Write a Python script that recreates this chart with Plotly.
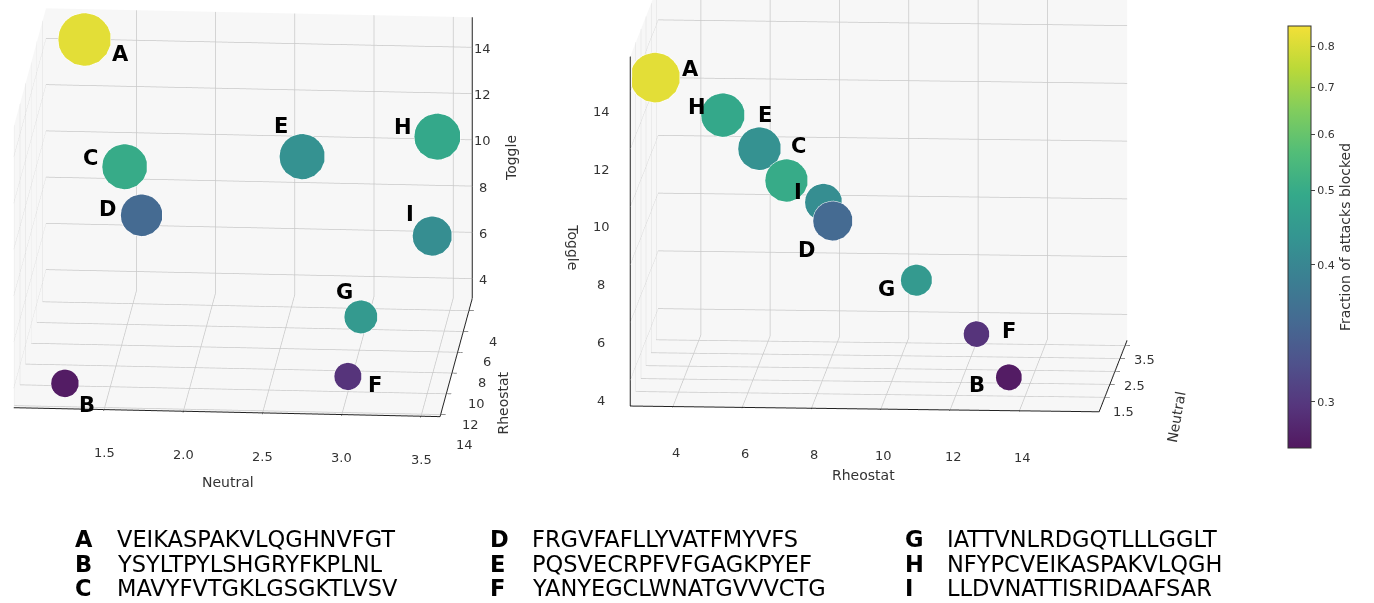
import numpy as np
import plotly.graph_objects as go

# ---------------- data ----------------
labels = ["A", "B", "C", "D", "E", "F", "G", "H", "I"]
neutral = [1.18, 1.24, 1.50, 1.63, 2.60, 3.00, 3.05, 3.43, 3.45]
rheostat = [3.4, 13.6, 7.1, 8.4, 6.0, 12.15, 10.4, 4.7, 7.6]
toggle = [14.3, 4.0, 10.5, 9.0, 10.6, 3.9, 5.7, 11.0, 8.0]
fraction_blocked = [0.82, 0.27, 0.50, 0.36, 0.43, 0.295, 0.45, 0.49, 0.42]
sequences = [
    "VEIKASPAKVLQGHNVFGT", "YSYLTPYLSHGRYFKPLNL", "MAVYFVTGKLGSGKTLVSV",
    "FRGVFAFLLYVATFMYVFS", "PQSVECRPFVFGAGKPYEF", "YANYEGCLWNATGVVVCTG",
    "IATTVNLRDGQTLLLGGLT", "NFYPCVEIKASPAKVLQGH", "LLDVNATTISRIDAAFSAR",
]
cbar_ticks = [0.3, 0.4, 0.5, 0.6, 0.7, 0.8]
toggle_ticks = [4, 6, 8, 10, 12, 14]
rheostat_ticks = [4, 6, 8, 10, 12, 14]
neutral_ticks_left = [1.5, 2.0, 2.5, 3.0, 3.5]
neutral_ticks_right = [1.5, 2.0, 2.5, 3.0, 3.5]
neutral_labels_right = [1.5, 2.5, 3.5]

# axis ranges
N_RANGE = [0.93, 3.62]
N_RANGE2 = [0.94, 3.7]
R_RANGE = [2.8, 14.2]
R_RANGE2 = [2.77, 16.3]
T_RANGE = [3.15, 15.3]
T_RANGE2 = [3.1, 15.2]

# colour-bar scale as it appears in the picture (value -> position on bar)
bar_vals = [0.266, 0.3, 0.4, 0.5, 0.6, 0.7, 0.8, 0.85]
bar_pos = [0.0, 0.109, 0.434, 0.611, 0.744, 0.855, 0.952, 1.0]
col = np.interp(fraction_blocked, bar_vals, bar_pos)
tickpos = np.interp(cbar_ticks, bar_vals, bar_pos)

# slightly muted viridis, as in the picture
viridis = ["#440154", "#482475", "#414487", "#355f8d", "#2a788e", "#21918c",
           "#22a884", "#44bf70", "#7ad151", "#bddf26", "#fde725"]
def mute(h, k=0.13, g=(176, 176, 176)):
    r, gg, b = int(h[1:3], 16), int(h[3:5], 16), int(h[5:7], 16)
    m = [round((1 - k) * c + k * gc) for c, gc in zip((r, gg, b), g)]
    return "rgb(%d,%d,%d)" % tuple(m)
cscale = [[i / 10, mute(c)] for i, c in enumerate(viridis)]

FONT = "DejaVu Sans"
TXT = "#333"

def axis(rng, tickvals, reverse=False, show_ticks=True):
    r = list(rng)[::-1] if reverse else list(rng)
    return dict(
        title=dict(text=""), range=r, tickvals=tickvals,
        showbackground=True, backgroundcolor="#f7f7f7",
        gridcolor="#c9c9c9", gridwidth=1.5, showline=show_ticks, linecolor="#222",
        linewidth=2, ticks="outside" if show_ticks else "", tickcolor="#222", ticklen=5,
        showticklabels=False, zeroline=False, showspikes=False,
    )

def camera(center, direction):
    c = dict(x=center[0], y=center[1], z=center[2])
    e = dict(x=center[0] + direction[0], y=center[1] + direction[1], z=center[2] + direction[2])
    return dict(eye=e, center=c, up=dict(x=0, y=0, z=1), projection=dict(type="orthographic"))

fig = go.Figure()

size_left = [16.3 * np.sqrt(t) for t in toggle]
size_right = [15.4 * np.sqrt(t) for t in toggle]

fig.add_trace(go.Scatter3d(
    x=neutral, y=rheostat, z=toggle, mode="markers", scene="scene",
    marker=dict(size=size_left, sizemode="diameter", color=col, cmin=0, cmax=1,
                colorscale=cscale, opacity=1, line=dict(color="white", width=1)),
    showlegend=False, hoverinfo="skip",
))

# left panel: Toggle axis drawn on the back-right edge (as in the picture)
ax_x, ax_y = N_RANGE[1], R_RANGE[0]
fig.add_trace(go.Scatter3d(
    x=[ax_x, ax_x], y=[ax_y, ax_y], z=T_RANGE, mode="lines", scene="scene",
    line=dict(color="#222", width=2), showlegend=False, hoverinfo="skip",
))
tx, ty, tz = [], [], []
for t in toggle_ticks:
    tx += [ax_x, ax_x + 0.05, None]
    ty += [ax_y, ax_y, None]
    tz += [t, t, None]
fig.add_trace(go.Scatter3d(
    x=tx, y=ty, z=tz, mode="lines", scene="scene",
    line=dict(color="#222", width=2), showlegend=False, hoverinfo="skip",
))

fig.add_trace(go.Scatter3d(
    x=rheostat, y=neutral, z=toggle, mode="markers", scene="scene2",
    marker=dict(size=size_right, sizemode="diameter", color=col, cmin=0, cmax=1,
                colorscale=cscale, opacity=1, line=dict(color="white", width=1),
                colorbar=dict(
                    x=0.930, xanchor="left", y=0.607, yanchor="middle",
                    len=0.733, lenmode="fraction", thickness=23,
                    tickvals=list(tickpos), ticktext=[str(t) for t in cbar_ticks],
                    ticks="outside", ticklen=4, outlinewidth=1, outlinecolor="#333",
                    tickfont=dict(family=FONT, size=11, color=TXT),
                    title=dict(text="Fraction of attacks blocked", side="right",
                               font=dict(family=FONT, size=14, color=TXT)),
                )),
    showlegend=False, hoverinfo="skip",
))

# label offsets (pixels) for each point
off_left = [(37, 15), (22, 22), (-34, -8), (-34, -6), (-21, -30), (27, 9), (-16, -25), (-34, -9), (-22, -22)]
off_right = [(36, -8), (-32, 8), (13, -34), (-26, 30), (6, -33), (33, -3), (-30, 9), (-25, -7), (-25, -10)]

def anns(xs, ys, zs, offs):
    out = []
    for lab, x, y, z, (dx, dy) in zip(labels, xs, ys, zs, offs):
        out.append(dict(x=x, y=y, z=z, text="<b>%s</b>" % lab, showarrow=False,
                        xshift=dx, yshift=-dy,
                        font=dict(family=FONT, size=21, color="black")))
    return out

def txt(x, y, z, text, dx, dy, angle=0, size=14):
    return dict(x=x, y=y, z=z, text=text, showarrow=False, xshift=dx, yshift=-dy,
                textangle=angle, font=dict(family=FONT, size=size, color=TXT))

# ---- left panel texts
left_anns = anns(neutral, rheostat, toggle, off_left)
for t in toggle_ticks:
    left_anns.append(txt(ax_x, ax_y, t, str(t), 10, 1, size=13))
for v in neutral_ticks_left:
    left_anns.append(txt(v, R_RANGE[1], T_RANGE[0], "%.1f" % v, 0, 43, size=13))
for v in rheostat_ticks:
    left_anns.append(txt(N_RANGE[1], v, T_RANGE[0], str(v), 24, 30, size=13))
left_anns.append(txt(ax_x, ax_y, 9.2, "Toggle", 39, 0, -90))
left_anns.append(txt(2.28, R_RANGE[1], T_RANGE[0], "Neutral", 0, 69))
left_anns.append(txt(N_RANGE[1], 10.0, T_RANGE[0], "Rheostat", 51, 30, -90))

# ---- right panel texts
right_anns = anns(rheostat, neutral, toggle, off_right)
for v in rheostat_ticks:
    right_anns.append(txt(v, N_RANGE2[0], T_RANGE2[0], str(v), 3, 46, size=13))
for t in toggle_ticks:
    right_anns.append(txt(R_RANGE2[0], N_RANGE2[0], t, str(t), -29, 20, size=13))
for v in neutral_labels_right:
    right_anns.append(txt(R_RANGE2[1], v, T_RANGE2[0], "%.1f" % v, 19, 14, size=13))
right_anns.append(txt(9.5, N_RANGE2[0], T_RANGE2[0], "Rheostat", 0, 66))
right_anns.append(txt(R_RANGE2[0], N_RANGE2[0], 8.6, "Toggle", -58, 0, 90))
right_anns.append(txt(R_RANGE2[1], 2.0, T_RANGE2[0], "Neutral", 66, 32, -80))

fig.update_layout(
    width=1374, height=603, margin=dict(l=0, r=0, t=0, b=0),
    paper_bgcolor="white",
    scene=dict(
        domain=dict(x=[0.0, 0.375], y=[0.17, 1.0]),
        xaxis=axis(N_RANGE, neutral_ticks_left),
        yaxis=axis(R_RANGE, rheostat_ticks, reverse=True),
        zaxis=axis(T_RANGE, toggle_ticks, show_ticks=False),
        aspectmode="manual", aspectratio=dict(x=1.71, y=1.71, z=1.17),
        camera=camera((0.058, 0, -0.155), (0.09, -1.19, 0.345)),
        annotations=left_anns,
        bgcolor="white",
    ),
    scene2=dict(
        domain=dict(x=[0.39, 0.84], y=[0.17, 1.0]),
        xaxis=axis(R_RANGE2, rheostat_ticks),
        yaxis=axis(N_RANGE2, neutral_ticks_right),
        zaxis=axis(T_RANGE2, toggle_ticks),
        aspectmode="manual", aspectratio=dict(x=1.88, y=1.62, z=1.42),
        camera=camera((-0.135, 0, -0.211), (0.09, -1.3, 0.234)),
        annotations=right_anns,
        bgcolor="white",
    ),
)

# sequence table at the bottom
col_x = [73, 488, 903]
row_y = [539, 563.5, 588]
for i, (lab, seq) in enumerate(zip(labels, sequences)):
    c, r = divmod(i, 3)
    fig.add_annotation(x=col_x[c] / 1374, y=1 - row_y[r] / 603, xref="paper", yref="paper",
                       text="<b>%s</b>" % lab, showarrow=False, xanchor="left", yanchor="middle",
                       font=dict(family=FONT, size=22.5, color="black"))
    fig.add_annotation(x=(col_x[c] + 42) / 1374, y=1 - row_y[r] / 603, xref="paper", yref="paper",
                       text=seq, showarrow=False, xanchor="left", yanchor="middle",
                       font=dict(family=FONT, size=22.5, color="black"))

fig.write_html("out.html")
